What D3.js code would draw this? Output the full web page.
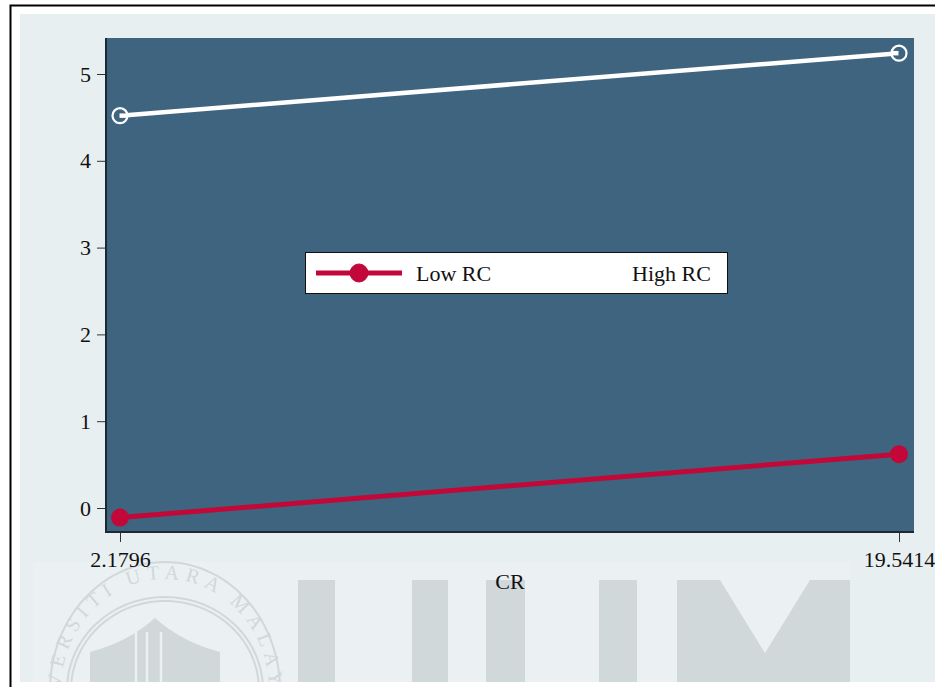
<!DOCTYPE html>
<html>
<head>
<meta charset="utf-8">
<script src="https://cdn.jsdelivr.net/npm/d3@7"></script>
<style>
  body { margin: 0; background: #ffffff; }
  svg { display: block; }
  text { font-family: "Liberation Serif", "Times New Roman", serif; fill: #111; }
</style>
</head>
<body>
<svg id="chart" width="935" height="687"></svg>
<script>
// ---- data ----
const crValues = [2.1796, 19.5414];          // x positions (CR at low / high)
const crTickLabels = ["2.1796", "19.5414"];
const seriesNames = ["Low RC", "High RC"];
const lowRC = [-0.11, 0.62];
const highRC = [4.52, 5.24];
const yTickValues = [0, 1, 2, 3, 4, 5];
const xTitle = "CR";
const sealText = "UNIVERSITI UTARA MALAYSIA";

// ---- layout ----
const W = 935, H = 687;
const plot = { left: 106, right: 914, top: 38, bottom: 532 };
const colors = {
  page: "#e8eff1", plotBg: "#3f6480", low: "#c10838", high: "#ffffff",
  mark: "#d1d8da", band: "#ebf1f2"
};

const svg = d3.select("#chart");

// x: tick positions sit slightly inside the plot region
const x = d3.scaleLinear().domain([crValues[0], crValues[1]]).range([120, 899]);
const y = d3.scaleLinear().domain([0, 5]).range([508, 74]);

// outer frame
svg.append("rect").attr("x", 0).attr("y", 0).attr("width", W).attr("height", H).attr("fill", "#fff");
svg.append("rect").attr("x", 20).attr("y", 14).attr("width", W - 20).attr("height", 668).attr("fill", colors.page);
svg.append("path")
  .attr("d", `M10.5,${H} L10.5,5.5 L${W},5.5`)
  .attr("fill", "none").attr("stroke", "#000").attr("stroke-width", 2);

// ---- university seal watermark ----
const wm = svg.append("g");
const clipId = "wmclip";
svg.append("defs").append("clipPath").attr("id", clipId)
  .append("rect").attr("x", 20).attr("y", 540).attr("width", W).attr("height", 142);
wm.attr("clip-path", `url(#${clipId})`);
wm.append("rect").attr("x", 33).attr("y", 562).attr("width", 817).attr("height", 120).attr("fill", colors.band);

const seal = { cx: 165, cy: 690 };
const ellipsePath = (rx, ry, t0, t1, n = 120) => {
  const pts = d3.range(n + 1).map(i => {
    const t = t0 + (t1 - t0) * i / n;
    return [seal.cx + rx * Math.cos(t), seal.cy + ry * Math.sin(t)];
  });
  return d3.line()(pts);
};
[[115, 128], [98, 93], [94, 89]].forEach(([rx, ry]) => {
  wm.append("path").attr("d", ellipsePath(rx, ry, 0, 2 * Math.PI))
    .attr("fill", "none").attr("stroke", colors.mark).attr("stroke-width", 2);
});
wm.append("path").attr("id", "sealArc")
  .attr("d", ellipsePath(104, 111, 0.55 * Math.PI, 2.45 * Math.PI))
  .attr("fill", "none");
wm.append("text")
  .attr("font-size", 20).attr("letter-spacing", 6).style("fill", colors.mark)
  .append("textPath").attr("href", "#sealArc")
  .attr("startOffset", "50%").attr("text-anchor", "middle")
  .text(sealText);
// building in the seal centre
wm.append("path")
  .attr("d", "M90,690 L90,652 Q128,642 155,618 Q182,642 220,652 L220,690 Z")
  .attr("fill", colors.mark);
[136, 147, 161].forEach(cx => {
  wm.append("line").attr("x1", cx).attr("x2", cx).attr("y1", 632).attr("y2", 690)
    .attr("stroke", colors.band).attr("stroke-width", 2.5);
});
// large letters
const letterBars = [[298, 335], [412, 448], [486, 525], [599, 637]];
letterBars.forEach(([a, b]) => {
  wm.append("rect").attr("x", a).attr("y", 580).attr("width", b - a).attr("height", 110).attr("fill", colors.mark);
});
wm.append("path")
  .attr("d", "M677,580 L720,580 L765,653 L810,580 L850,580 L850,690 L677,690 Z")
  .attr("fill", colors.mark);

// ---- plot region ----
svg.append("rect")
  .attr("x", plot.left).attr("y", plot.top)
  .attr("width", plot.right - plot.left).attr("height", plot.bottom - plot.top)
  .attr("fill", colors.plotBg);

// axes
const yAxis = d3.axisLeft(y).tickValues(yTickValues).tickFormat(d3.format("d")).tickSize(9).tickPadding(6);
const gy = svg.append("g").attr("transform", `translate(${plot.left},0)`).call(yAxis);
const xAxis = d3.axisBottom(x).tickValues(crValues).tickFormat((d, i) => crTickLabels[i]).tickSize(10).tickPadding(9);
const gx = svg.append("g").attr("transform", `translate(0,${plot.bottom})`).call(xAxis);
[gx, gy].forEach(g => {
  g.select(".domain").remove();
  g.selectAll(".tick line").attr("stroke", "#333").attr("stroke-width", 1);
  g.selectAll(".tick text").attr("font-size", 22).attr("font-family", "Liberation Serif, serif").style("fill", "#111");
});
svg.append("path")
  .attr("d", `M${plot.left},${plot.top} L${plot.left},${plot.bottom} L${plot.right},${plot.bottom}`)
  .attr("fill", "none").attr("stroke", "#1c2833").attr("stroke-width", 2);

svg.append("text").attr("x", (plot.left + plot.right) / 2).attr("y", 589)
  .attr("text-anchor", "middle").attr("font-size", 22).text(xTitle);

// ---- series ----
const line = d3.line().x(d => x(d[0])).y(d => y(d[1]));
const lowPts = crValues.map((c, i) => [c, lowRC[i]]);
const highPts = crValues.map((c, i) => [c, highRC[i]]);

svg.append("path").datum(lowPts).attr("d", line)
  .attr("fill", "none").attr("stroke", colors.low).attr("stroke-width", 5);
svg.selectAll(".lowPt").data(lowPts).join("circle")
  .attr("cx", d => x(d[0])).attr("cy", d => y(d[1])).attr("r", 9)
  .attr("fill", colors.low);

svg.append("path").datum(highPts).attr("d", line)
  .attr("fill", "none").attr("stroke", colors.high).attr("stroke-width", 4.5);
svg.selectAll(".highPt").data(highPts).join("circle")
  .attr("cx", d => x(d[0])).attr("cy", d => y(d[1])).attr("r", 7.5)
  .attr("fill", colors.plotBg).attr("stroke", colors.high).attr("stroke-width", 2.2);
svg.selectAll(".highDot").data(highPts).join("line")
  .attr("x1", d => x(d[0]) - 0.5).attr("x2", d => x(d[0]) + (d === highPts[0] ? 8 : -8))
  .attr("y1", d => y(d[1])).attr("y2", d => y(d[1]))
  .attr("stroke", colors.high).attr("stroke-width", 4.5);

// ---- legend ----
const lg = svg.append("g");
lg.append("rect").attr("x", 305.5).attr("y", 252.5).attr("width", 422).attr("height", 41)
  .attr("fill", "#fff").attr("stroke", "#111").attr("stroke-width", 1);
const legendKeys = [
  { name: seriesNames[0], color: colors.low, x0: 316, tx: 416, filled: true },
  { name: seriesNames[1], color: colors.high, x0: 536, tx: 632, filled: false }
];
legendKeys.forEach(k => {
  lg.append("line").attr("x1", k.x0).attr("x2", k.x0 + 86).attr("y1", 273).attr("y2", 273)
    .attr("stroke", k.color).attr("stroke-width", 5);
  lg.append("circle").attr("cx", k.x0 + 43).attr("cy", 273).attr("r", 9)
    .attr("fill", k.filled ? k.color : "#fff").attr("stroke", k.color);
  lg.append("text").attr("x", k.tx).attr("y", 281).attr("font-size", 22).text(k.name);
});
</script>
</body>
</html>
